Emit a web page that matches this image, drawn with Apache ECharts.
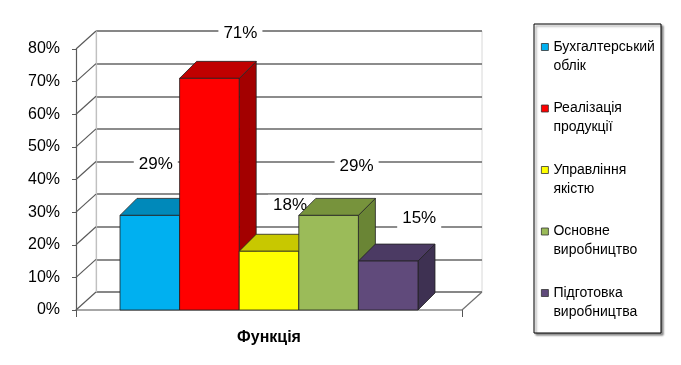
<!DOCTYPE html>
<html>
<head>
<meta charset="utf-8">
<script src="https://cdn.jsdelivr.net/npm/echarts@6/dist/echarts.min.js"></script>
<style>
html,body{margin:0;padding:0;background:#fff;}
#chart{width:681px;height:365px;}
</style>
</head>
<body>
<div id="chart"></div>
<script>
// ---- data ----
const categories = ['Функція'];
const seriesNames = [
  'Бухгалтерський\nоблік',
  'Реалізація\nпродукції',
  'Управління\nякістю',
  'Основне\nвиробництво',
  'Підготовка\nвиробництва'
];
const seriesValues = [29, 71, 18, 29, 15];
const yTicks = [0, 10, 20, 30, 40, 50, 60, 70, 80];

// ---- styles / layout ----
const frontColors = ['#00B0F0', '#FF0000', '#FFFF00', '#9BBB59', '#604A7B'];
const topColors   = ['#0089BA', '#C00000', '#C8C800', '#77933C', '#4B3A63'];
const sideColors  = ['#007AA6', '#A30000', '#B0B000', '#6A8535', '#3E3152'];
const labelNudge  = [[6, -51], [31, -45], [21, -46], [28, -49], [31, -43]];
const FL = 76, FT = 49, FW = 386, FH = 261; // front plane
const DX = 20, DY = -18;                     // wall depth
const BDX = 17, BDY = -17;                   // bar depth
const BAR_FRAC = 0.1544;
const FONT = '"Liberation Sans", Arial, sans-serif';

function makeBar(i) {
  return function (params, api) {
    const v = api.value(1);
    const top = api.coord([api.value(0), v]);
    const base = api.coord([api.value(0), 0]);
    const band = api.size([1, 0])[0];
    const bw = band * BAR_FRAC;
    const x0 = top[0] + (i - seriesValues.length / 2) * bw;
    const x1 = x0 + bw;
    const yt = top[1], yb = base[1];
    const stroke = { stroke: '#222', lineWidth: 0.8 };
    return {
      type: 'group',
      children: [
        { type: 'polygon', shape: { points: [[x1, yt], [x1 + BDX, yt + BDY], [x1 + BDX, yb + BDY], [x1, yb]] },
          style: Object.assign({ fill: sideColors[i] }, stroke) },
        { type: 'polygon', shape: { points: [[x0, yt], [x0 + BDX, yt + BDY], [x1 + BDX, yt + BDY], [x1, yt]] },
          style: Object.assign({ fill: topColors[i] }, stroke) },
        { type: 'rect', shape: { x: x0, y: yt, width: bw, height: yb - yt },
          style: Object.assign({ fill: frontColors[i] }, stroke) },
        { type: 'text', z2: 100,
          x: x0 + bw / 2 + labelNudge[i][0], y: yt + labelNudge[i][1],
          style: { text: v + '%', align: 'center', verticalAlign: 'middle',
                   font: '17px ' + FONT, fill: '#000', backgroundColor: '#fff', padding: [2, 5] } }
      ]
    };
  };
}

const barSeries = seriesNames.map((name, i) => ({
  type: 'custom',
  name: name,
  xAxisIndex: 0, yAxisIndex: 0,
  z: 10 + i,
  itemStyle: { color: frontColors[i] },
  renderItem: makeBar(i),
  data: [[0, seriesValues[i]]]
}));

const wallSeries = {
  type: 'custom', silent: true, xAxisIndex: 1, yAxisIndex: 1, z: 3,
  renderItem: function (params, api) {
    const p = api.coord([0, api.value(1)]);
    return { type: 'line', shape: { x1: p[0], y1: p[1], x2: p[0] - DX, y2: p[1] - DY },
             style: { stroke: '#5a5a5a', lineWidth: 1.2 } };
  },
  data: yTicks.map(t => [0, t])
};
const floorSeries = {
  type: 'custom', silent: true, xAxisIndex: 1, yAxisIndex: 1, z: 3,
  renderItem: function (params, api) {
    const p = api.coord([api.value(0), api.value(1)]);
    return { type: 'line', shape: { x1: p[0], y1: p[1], x2: p[0] - DX, y2: p[1] - DY },
             style: { stroke: '#707070', lineWidth: 1.2 } };
  },
  data: [[1, 0]]
};

const chart = echarts.init(document.getElementById('chart'), null, { renderer: 'canvas' });
chart.setOption({
  animation: false,
  backgroundColor: '#fff',
  graphic: [{
    type: 'rect', z: 0,
    shape: { x: 534, y: 24, width: 127, height: 309 },
    style: { fill: '#fff', stroke: '#000', lineWidth: 1,
             shadowColor: 'rgba(0,0,0,0.45)', shadowOffsetX: 2, shadowOffsetY: 2, shadowBlur: 2 }
  }],
  legend: {
    orient: 'vertical', left: 541, top: 18.5, padding: 0,
    itemGap: 4.5, itemWidth: 7, itemHeight: 7, icon: 'rect',
    data: seriesNames,
    formatter: function (name) { return '{e|}\n{t|' + name.split('\n').join('}\n{t|') + '}'; },
    itemStyle: { borderColor: '#333', borderWidth: 0.8 },
    textStyle: {
      fontFamily: FONT, fontSize: 14, lineHeight: 19, color: '#000',
      rich: {
        e: { height: 19, lineHeight: 19, fontSize: 14 },
        t: { fontFamily: FONT, fontSize: 14, lineHeight: 19, color: '#000' }
      }
    },
    selectedMode: false
  },
  grid: [
    { left: FL, top: FT, width: FW, height: FH },
    { left: FL + DX, top: FT + DY, width: FW, height: FH, show: true, borderColor: '#d8d8d8', borderWidth: 1, backgroundColor: 'transparent' }
  ],
  xAxis: [
    { type: 'category', gridIndex: 0, data: categories,
      axisLine: { show: true, lineStyle: { color: '#8a8a8a', width: 1.5 } },
      axisTick: { show: true, length: 7, lineStyle: { color: '#555' } },
      axisLabel: { margin: 20, fontFamily: FONT, fontSize: 16, fontWeight: 'bold', color: '#000' },
      splitLine: { show: false } },
    { type: 'value', gridIndex: 1, min: 0, max: 1, show: false }
  ],
  yAxis: [
    { type: 'value', gridIndex: 0, min: 0, max: 80, interval: 10,
      axisLine: { show: true, lineStyle: { color: '#5a5a5a', width: 1.2 } },
      axisTick: { show: true, length: 4, lineStyle: { color: '#5a5a5a' } },
      axisLabel: { formatter: '{value}%', margin: 16, fontFamily: FONT, fontSize: 16, color: '#000' },
      splitLine: { show: false } },
    { type: 'value', gridIndex: 1, min: 0, max: 80, interval: 10,
      axisLine: { show: true, lineStyle: { color: '#c0c0c0', width: 1.2 } },
      axisTick: { show: false }, axisLabel: { show: false },
      splitLine: { show: true, lineStyle: { color: '#666666', width: 1.5 } } }
  ],
  series: [wallSeries, floorSeries].concat(barSeries)
});
</script>
</body>
</html>
